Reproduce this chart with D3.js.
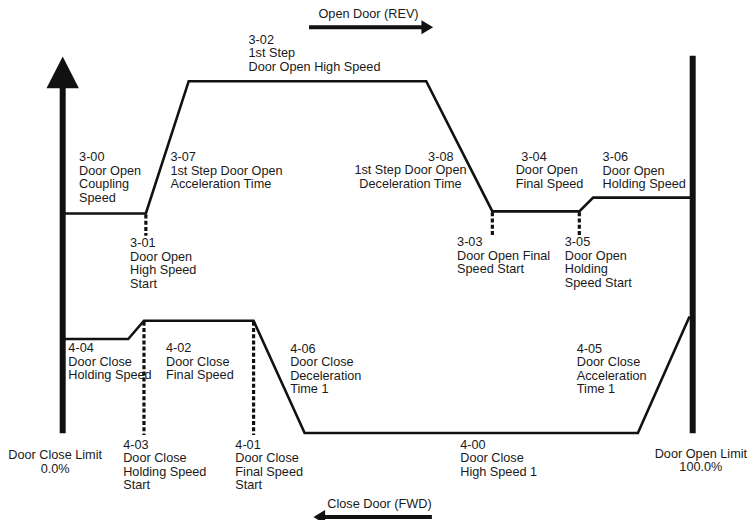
<!DOCTYPE html>
<html>
<head>
<meta charset="utf-8">
<script src="https://cdnjs.cloudflare.com/ajax/libs/d3/7.8.5/d3.min.js"></script>
<style>
  html, body { margin: 0; padding: 0; background: #fff; }
  svg text { font-family: "Liberation Sans", Arial, sans-serif; font-size: 12.7px; fill: #1a1a1a; }
</style>
</head>
<body>
<svg id="chart" width="748" height="520"></svg>
<script>
// door position (%) and speed level (0-100, arbitrary)
var openPos = [0, 13.2, 20.0, 57.7, 68.2, 82.0, 84.2, 100];
var openSpeed = [62.4, 62.4, 100, 100, 63.0, 63.0, 66.9, 66.9];
var closePos = [0, 10.4, 12.9, 30.3, 38.4, 91.3, 99.5];
var closeSpeed = [26.7, 26.7, 31.9, 31.9, 0, 0, 33.1];

// dashed start markers: position, level they hang from, level they end at
var openMarks = [13.2, 68.2, 82.0];
var openMarkLevel = [62.4, 63.0, 63.0];
var openMarkEnd = 56.1;
var closeMarks = [12.9, 30.3];
var closeMarkLevel = 31.9;
var closeMarkEnd = -0.6;

var limitPos = [0, 100];
var limitTop = 107.2;

var labels = [
  { lines: ['3-02', '1st Step', 'Door Open High Speed'], x: 29.5, y: 110.7 },
  { lines: ['3-00', 'Door Open', 'Coupling', 'Speed'], x: 2.6, y: 77.3 },
  { lines: ['3-07', '1st Step Door Open', 'Acceleration Time'], x: 17.1, y: 77.3 },
  { lines: ['3-08'], x: 58.0, y: 77.3 },
  { lines: ['1st Step Door Open', 'Deceleration Time'], x: 55.2, y: 73.5, anchor: 'middle' },
  { lines: ['3-04'], x: 72.8, y: 77.3 },
  { lines: ['Door Open', 'Final Speed'], x: 71.9, y: 73.5 },
  { lines: ['3-06', 'Door Open', 'Holding Speed'], x: 85.7, y: 77.3 },
  { lines: ['3-01', 'Door Open', 'High Speed', 'Start'], x: 10.7, y: 52.8 },
  { lines: ['3-03', 'Door Open Final', 'Speed Start'], x: 62.6, y: 53.1 },
  { lines: ['3-05', 'Door Open', 'Holding', 'Speed Start'], x: 79.7, y: 53.1 },
  { lines: ['4-04', 'Door Close', 'Holding Speed'], x: 0.9, y: 22.9 },
  { lines: ['4-02', 'Door Close', 'Final Speed'], x: 16.4, y: 22.9 },
  { lines: ['4-06', 'Door Close', 'Deceleration', 'Time 1'], x: 36.1, y: 22.8 },
  { lines: ['4-05', 'Door Close', 'Acceleration', 'Time 1'], x: 81.6, y: 22.8 },
  { lines: ['4-03', 'Door Close', 'Holding Speed', 'Start'], x: 9.6, y: -4.5 },
  { lines: ['4-01', 'Door Close', 'Final Speed', 'Start'], x: 27.4, y: -4.5 },
  { lines: ['4-00', 'Door Close', 'High Speed 1'], x: 63.1, y: -4.5 },
  { lines: ['Door Close Limit', '0.0%'], x: -1.2, y: -7.4, anchor: 'middle' },
  { lines: ['Door Open Limit', '100.0%'], x: 101.3, y: -7.0, anchor: 'middle' }
];

var directions = [
  { text: 'Open Door (REV)', textX: 40.6, textY: 117.9, from: 39.1, to: 58.8, level: 115.3 },
  { text: 'Close Door (FWD)', textX: 42.0, textY: -21.4, from: 58.6, to: 39.8, level: -23.9 }
];

var svg = d3.select('#chart');
var x = d3.scaleLinear().domain([0, 100]).range([62.7, 692.7]);
var y = d3.scaleLinear().domain([0, 100]).range([433, 81.2]);
var lineHeight = 13.5;

var line = d3.line()
  .x(function(d) { return x(d[0]); })
  .y(function(d) { return y(d[1]); });

var pairs = function(xs, ys) {
  return xs.map(function(v, i) { return [v, ys[i]]; });
};

// speed profiles
svg.append('path')
  .datum(pairs(openPos, openSpeed))
  .attr('d', line)
  .attr('fill', 'none')
  .attr('stroke', '#111')
  .attr('stroke-width', 2.6)
  .attr('stroke-linejoin', 'miter');

svg.append('path')
  .datum(pairs(closePos, closeSpeed))
  .attr('d', line)
  .attr('fill', 'none')
  .attr('stroke', '#111')
  .attr('stroke-width', 2.6)
  .attr('stroke-linejoin', 'miter');

// dashed markers
var marks = openMarks.map(function(p, i) { return [p, openMarkLevel[i], openMarkEnd]; })
  .concat(closeMarks.map(function(p) { return [p, closeMarkLevel, closeMarkEnd]; }));

svg.selectAll('line.mark')
  .data(marks)
  .enter().append('line')
  .attr('class', 'mark')
  .attr('x1', function(d) { return x(d[0]); })
  .attr('x2', function(d) { return x(d[0]); })
  .attr('y1', function(d) { return y(d[1]) + 1; })
  .attr('y2', function(d) { return y(d[2]); })
  .attr('stroke', '#111')
  .attr('stroke-width', 3.2)
  .attr('stroke-dasharray', '4,2.2');

// limit posts
svg.selectAll('line.limit')
  .data(limitPos)
  .enter().append('line')
  .attr('class', 'limit')
  .attr('x1', function(d) { return x(d); })
  .attr('x2', function(d) { return x(d); })
  .attr('y1', y(0) + 0.3)
  .attr('y2', function(d, i) { return i === 0 ? y(limitTop) + 30 : y(limitTop); })
  .attr('stroke', '#111')
  .attr('stroke-width', 6);

// arrow head on the left post
var tipY = y(limitTop) + 0.7;
svg.append('polygon')
  .attr('points', [
    [x(0) - 16.2, tipY + 31.6],
    [x(0) + 16.2, tipY + 31.6],
    [x(0), tipY]
  ].join(' '))
  .attr('fill', '#111');

// direction arrows
directions.forEach(function(d) {
  var dir = d.to > d.from ? 1 : -1;
  var tip = x(d.to);
  var base = tip - dir * 11.7;
  svg.append('line')
    .attr('x1', x(d.from))
    .attr('x2', base + dir * 1)
    .attr('y1', y(d.level))
    .attr('y2', y(d.level))
    .attr('stroke', '#111')
    .attr('stroke-width', 4);
  svg.append('polygon')
    .attr('points', [
      [base, y(d.level) - 7],
      [base, y(d.level) + 7],
      [tip, y(d.level)]
    ].join(' '))
    .attr('fill', '#111');
  svg.append('text')
    .attr('x', x(d.textX))
    .attr('y', y(d.textY))
    .text(d.text);
});

// annotations
var label = svg.selectAll('text.label')
  .data(labels)
  .enter().append('text')
  .attr('class', 'label')
  .attr('text-anchor', function(d) { return d.anchor || 'start'; })
  .attr('transform', function(d) { return 'translate(' + x(d.x) + ',' + y(d.y) + ')'; });

label.selectAll('tspan')
  .data(function(d) { return d.lines; })
  .enter().append('tspan')
  .attr('x', 0)
  .attr('y', function(d, i) { return i * lineHeight; })
  .text(function(d) { return d; });
</script>
</body>
</html>
